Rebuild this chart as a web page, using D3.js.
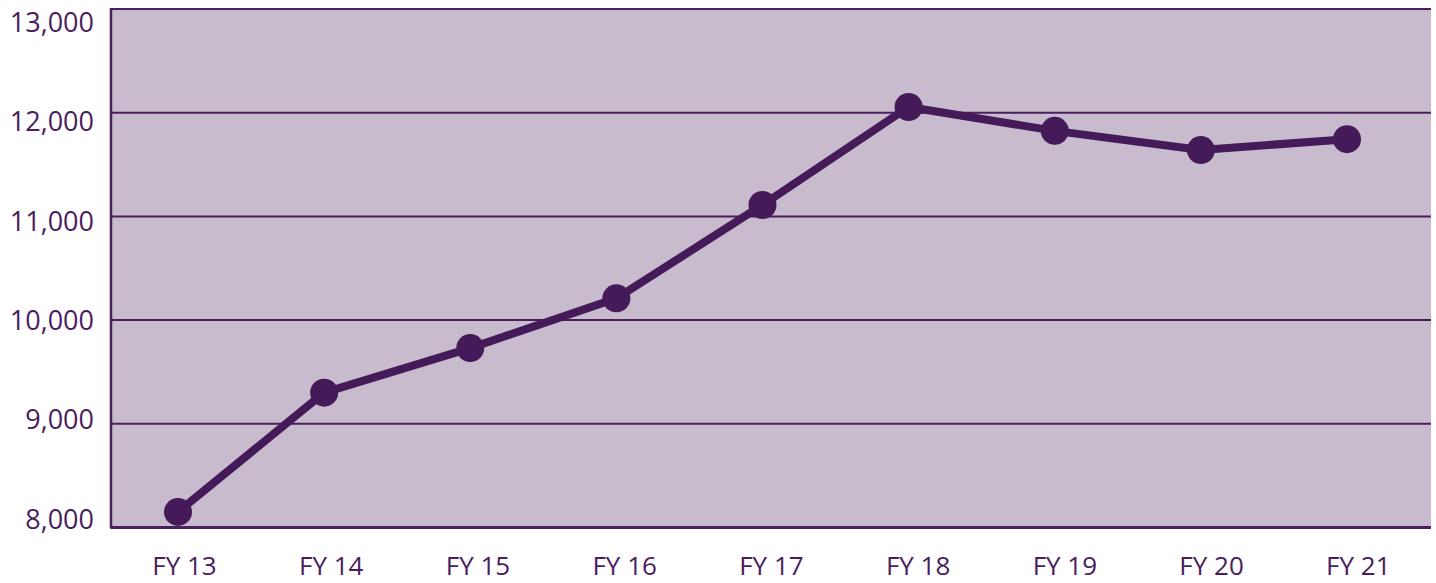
<!DOCTYPE html>
<html>
<head>
<meta charset="utf-8">
<script src="https://cdn.jsdelivr.net/npm/d3@7"></script>
<style>
  body { margin: 0; background: #fff; }
  text { font-family: "Open Sans", sans-serif; fill: #4a1d5e; }
</style>
</head>
<body>
<div id="chart"></div>
<script>
// data
const years = ["FY 13", "FY 14", "FY 15", "FY 16", "FY 17", "FY 18", "FY 19", "FY 20", "FY 21"];
const values = [8150, 9300, 9730, 10210, 11110, 12055, 11825, 11640, 11745];
const yTicks = [8000, 9000, 10000, 11000, 12000, 13000];

const W = 1436, H = 583;
const plot = { left: 111, right: 1431, top: 9, bottom: 527.5 };
const purple = "#441a59";

const svg = d3.select("#chart").append("svg")
    .attr("width", W)
    .attr("height", H);

// scales
const x = d3.scalePoint()
    .domain(years)
    .range([178, 1347]);

const y = d3.scaleLinear()
    .domain([8000, 13000])
    .range([plot.bottom, plot.top]);

// tick labels sit a little inside the grid in the original
const yLabel = d3.scaleLinear()
    .domain([8000, 13000])
    .range([519, 22]);

// background
svg.append("rect")
    .attr("x", plot.left)
    .attr("y", plot.top)
    .attr("width", plot.right - plot.left)
    .attr("height", plot.bottom - plot.top)
    .attr("fill", "#c7bbcd");

// gridlines
svg.append("g")
    .selectAll("line")
    .data(yTicks)
    .enter().append("line")
    .attr("x1", plot.left)
    .attr("x2", plot.right)
    .attr("y1", d => y(d))
    .attr("y2", d => y(d))
    .attr("stroke", "#4b1f5e")
    .attr("stroke-width", d => d === 8000 ? 3 : 2);

// left border
svg.append("line")
    .attr("x1", plot.left)
    .attr("x2", plot.left)
    .attr("y1", plot.top - 1)
    .attr("y2", plot.bottom + 1)
    .attr("stroke", "#4b1f5e")
    .attr("stroke-width", 2.5);

// y labels
svg.append("g")
    .selectAll("text")
    .data(yTicks)
    .enter().append("text")
    .attr("x", 94)
    .attr("y", d => yLabel(d))
    .attr("dy", "0.36em")
    .attr("text-anchor", "end")
    .style("font-size", "27px")
    .text(d => d3.format(",")(d));

// x axis labels
const xAxis = svg.append("g")
    .attr("transform", `translate(6,${plot.bottom})`)
    .call(d3.axisBottom(x).tickSize(0).tickPadding(0));
xAxis.select(".domain").remove();
xAxis.selectAll("text")
    .attr("y", 47)
    .attr("dy", null)
    .attr("x", (d, i) => i * 0.6)
    .style("font-size", "26px")
    .style("font-family", "'Open Sans', sans-serif")
    .attr("fill", "#4a1d5e");

// line
const line = d3.line()
    .x((d, i) => x(years[i]))
    .y(d => y(d));

svg.append("path")
    .datum(values)
    .attr("d", line)
    .attr("fill", "none")
    .attr("stroke", purple)
    .attr("stroke-width", 8);

// markers
svg.append("g")
    .selectAll("circle")
    .data(values)
    .enter().append("circle")
    .attr("cx", (d, i) => x(years[i]))
    .attr("cy", d => y(d))
    .attr("r", 14)
    .attr("fill", purple);
</script>
</body>
</html>
